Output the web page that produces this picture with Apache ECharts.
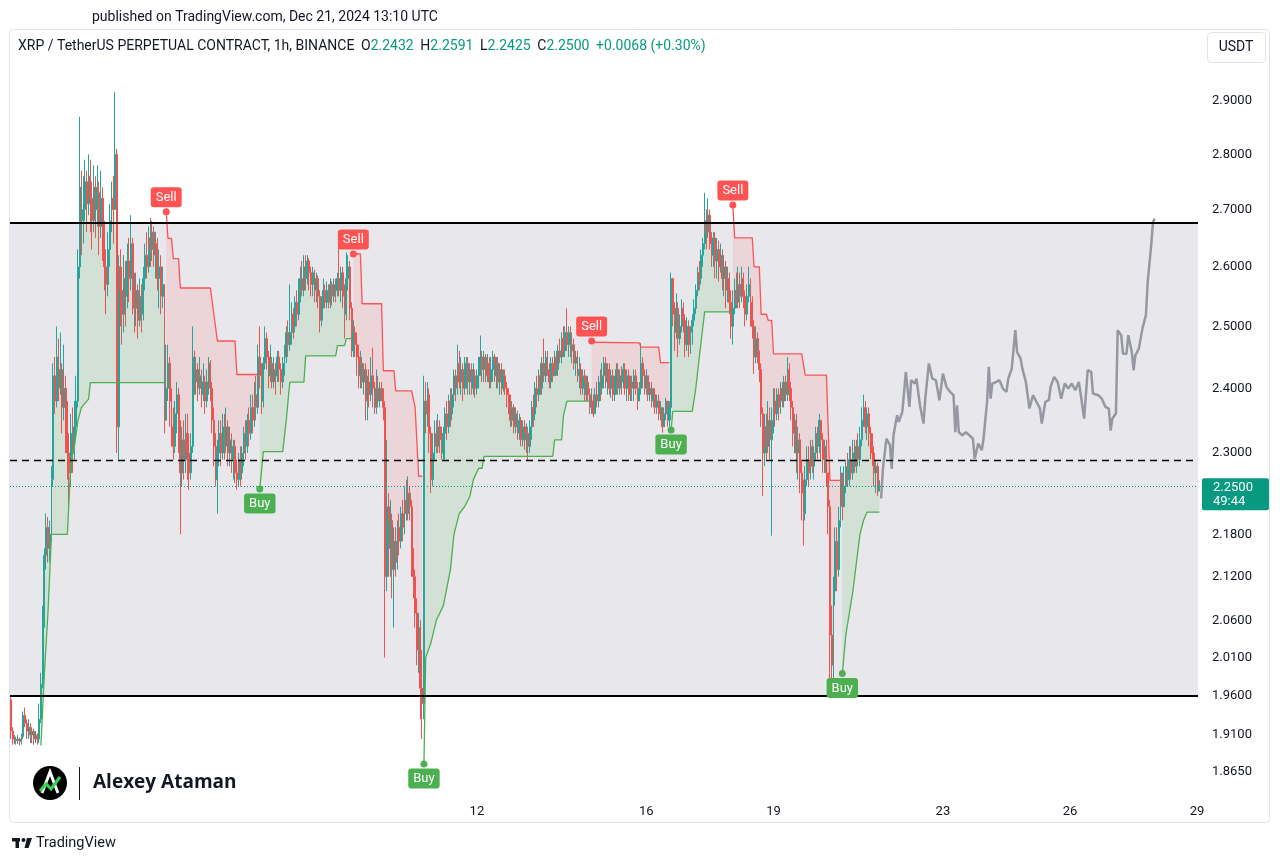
<!DOCTYPE html>
<html><head><meta charset="utf-8">
<script src="https://cdn.jsdelivr.net/npm/echarts@6/dist/echarts.min.js"></script>
<style>html,body{margin:0;padding:0;background:#fff;}#chart{width:1280px;height:861px;}</style>
</head><body><div id="chart"></div>
<script>
// ---------- DATA (hourly candles from Dec 1 00:00 UTC, index = hour) ----------
const startOpen = 1.955;
const closes = [
1.915,1.905,1.905,1.903,1.905,1.902,1.908,1.935,1.925,1.915,
1.92,1.91,1.915,1.905,1.91,1.905,1.93,1.975,
2.06,2.15,2.19,2.16,2.18,2.26,2.42,
2.38,2.45,2.40,2.43,2.37,2.40,2.34,2.30,2.27,2.33,2.30,2.34,2.38,
2.60,2.74,2.68,
2.70,2.75,2.71,2.76,2.72,2.68,2.74,2.70,2.73,2.67,2.72,2.65,2.60,2.57,2.63,2.68,2.72,2.70,
2.80,2.34,2.60,
2.56,2.52,2.58,2.55,2.61,2.58,2.64,2.57,2.53,2.56,2.51,2.55,2.52,2.58,2.62,2.60,2.65,2.63,2.66,2.62,2.64,2.58,2.60,2.55,2.57,
2.35,
2.40,2.44,2.38,2.34,2.31,2.36,2.39,2.33,2.27,2.32,2.29,2.33,2.30,2.27,2.31,2.45,
2.41,2.43,2.40,2.42,2.39,2.41,2.38,2.41,2.44,2.40,
2.35,2.31,2.26,2.30,2.33,2.30,2.34,
2.31,2.34,2.30,2.32,2.29,2.31,2.27,2.26,2.29,2.27,2.30,
2.33,2.31,2.35,2.33,2.37,2.35,2.39,2.37,2.45,2.42,
2.38,2.44,2.48,2.45,2.42,2.44,2.41,2.43,2.42,2.45,2.43,2.41,2.44,2.45,2.49,2.47,
2.49,2.52,2.50,2.54,2.52,2.56,2.58,2.56,
2.60,2.58,2.61,2.59,2.57,
2.59,2.56,2.58,2.55,2.51,2.54,2.56,2.54,
2.56,2.54,2.57,2.55,2.57,2.56,2.58,
2.56,2.59,2.55,2.52,2.58,2.60,2.53,2.46,
2.49,2.47,2.45,2.42,2.44,2.41,2.43,2.38,2.41,2.39,2.42,2.40,2.37,2.40,2.38,2.40,2.39,
2.37,2.12,2.22,
2.16,2.20,2.13,2.17,2.14,2.19,2.17,2.21,2.19,2.23,2.21,2.24,2.22,2.15,
2.12,2.07,2.02,2.05,1.97,1.95,2.38,
2.36,2.39,2.33,2.26,2.30,2.33,2.31,2.34,2.32,2.30,2.33,
2.36,2.34,2.38,2.36,2.39,2.42,2.40,2.44,2.41,2.43,2.40,2.42,
2.44,2.41,2.43,2.40,2.42,2.40,2.42,
2.44,2.45,2.43,2.45,2.42,2.44,2.41,2.43,2.45,2.42,2.44,2.41,2.43,2.40,2.42,2.40,2.39,
2.37,2.35,2.37,2.34,2.36,2.33,2.35,2.32,2.34,2.32,2.33,2.31,2.34,
2.37,2.36,2.40,2.39,
2.42,2.40,2.44,2.42,2.45,2.43,2.41,2.44,2.42,2.45,2.43,2.46,2.45,2.48,2.46,2.49,2.47,
2.49,2.46,2.47,2.44,2.45,2.42,2.43,2.40,2.42,2.39,2.41,2.39,2.37,
2.38,2.36,2.39,2.38,2.41,2.40,2.42,2.44,2.41,2.43,2.40,2.42,2.39,2.41,2.43,2.40,2.42,2.41,2.43,2.40,2.42,2.39,2.41,2.40,2.42,2.40,2.38,
2.40,2.44,2.42,2.40,2.42,2.39,2.40,2.38,2.39,2.37,2.38,2.36,2.37,2.34,2.36,2.38,2.35,2.37,
2.58,2.52,2.49,2.53,2.48,2.50,2.53,2.51,2.47,2.50,2.47,2.49,2.51,2.53,2.56,2.59,2.58,2.62,2.64,
2.68,2.66,2.69,2.64,2.62,2.65,2.61,2.63,2.60,2.62,2.58,2.60,2.56,2.58,2.54,2.50,
2.53,2.56,2.54,2.57,2.55,2.58,2.55,2.52,2.55,2.57,2.54,2.50,2.45,2.48,2.46,
2.43,2.36,2.30,2.34,2.31,2.35,2.32,2.35,2.38,
2.36,2.39,2.37,2.40,2.38,2.41,2.39,2.43,2.40,
2.37,2.33,2.35,2.30,2.32,2.27,2.24,2.21,2.26,
2.29,2.27,2.31,2.28,2.30,2.33,2.31,2.35,2.32,2.29,2.31,2.27,
2.22,2.04,2.00,2.10,2.17,2.13,2.20,2.27,2.22,
2.25,2.28,2.26,2.29,2.27,2.30,2.28,2.31,2.29,2.32,2.35,2.37,2.34,2.36,2.33,2.31,2.30,2.27,2.28,2.2432,2.25
];
const highs = [
1.958,1.92,1.91,1.908,1.91,1.907,1.912,1.94,1.945,1.93,1.93,1.925,1.92,1.918,1.915,1.912,1.95,1.99,
2.08,2.16,2.21,2.205,2.20,2.28,2.44,
2.45,2.50,2.48,2.49,2.44,2.47,2.42,2.38,2.33,2.36,2.37,2.38,2.42,
2.63,2.87,2.77,
2.76,2.79,2.77,2.80,2.79,2.75,2.78,2.76,2.78,2.75,2.77,2.74,2.68,2.63,2.66,2.71,2.75,2.76,
2.917,2.81,2.62,
2.63,2.60,2.62,2.61,2.64,2.65,2.69,2.65,2.59,2.59,2.57,2.58,2.57,2.60,2.64,2.66,2.67,2.685,2.68,2.67,2.66,2.65,2.63,2.62,2.60,
2.56,
2.47,2.47,2.45,2.40,2.37,2.38,2.41,2.40,2.35,2.34,2.35,2.36,2.36,2.33,2.33,2.50,
2.46,2.45,2.44,2.45,2.43,2.44,2.42,2.43,2.45,2.445,
2.41,2.37,2.33,2.32,2.35,2.35,2.36,
2.36,2.37,2.35,2.34,2.33,2.32,2.32,2.29,2.30,2.31,2.31,
2.34,2.35,2.36,2.37,2.39,2.39,2.41,2.42,2.47,2.50,
2.44,2.45,2.50,2.49,2.46,2.47,2.45,2.45,2.44,2.46,2.46,2.44,2.45,2.47,2.50,2.51,
2.57,2.54,2.53,2.55,2.56,2.58,2.60,2.61,
2.62,2.62,2.62,2.615,2.60,
2.60,2.595,2.59,2.585,2.56,2.55,2.58,2.57,
2.575,2.57,2.58,2.575,2.58,2.58,2.59,
2.65,2.60,2.60,2.57,2.625,2.62,2.61,2.54,
2.51,2.50,2.49,2.47,2.46,2.45,2.44,2.44,2.42,2.43,2.45,2.465,2.41,2.43,2.42,2.41,2.41,
2.40,2.38,2.32,
2.24,2.23,2.21,2.19,2.19,2.20,2.21,2.22,2.23,2.25,2.26,2.265,2.25,2.23,
2.16,2.13,2.09,2.07,2.06,2.02,2.42,
2.41,2.41,2.40,2.34,2.33,2.35,2.35,2.36,2.35,2.34,2.34,
2.37,2.38,2.39,2.40,2.40,2.43,2.43,2.47,2.46,2.45,2.44,2.45,
2.45,2.45,2.44,2.44,2.44,2.43,2.43,
2.45,2.485,2.46,2.46,2.455,2.455,2.45,2.45,2.46,2.455,2.45,2.45,2.44,2.44,2.43,2.43,2.41,
2.40,2.39,2.38,2.375,2.37,2.365,2.36,2.355,2.35,2.35,2.345,2.34,2.35,
2.38,2.39,2.41,2.42,
2.43,2.44,2.45,2.48,2.46,2.46,2.44,2.45,2.45,2.46,2.46,2.47,2.48,2.49,2.50,2.50,2.53,
2.50,2.50,2.49,2.48,2.46,2.46,2.45,2.44,2.43,2.43,2.42,2.42,2.40,
2.40,2.39,2.40,2.41,2.42,2.43,2.44,2.45,2.45,2.44,2.44,2.43,2.43,2.42,2.44,2.44,2.43,2.435,2.44,2.44,2.43,2.43,2.42,2.42,2.43,2.43,2.41,
2.41,2.473,2.45,2.43,2.43,2.42,2.41,2.41,2.40,2.40,2.39,2.39,2.38,2.37,2.37,2.385,2.38,2.38,
2.59,2.58,2.54,2.555,2.54,2.52,2.545,2.54,2.52,2.515,2.51,2.50,2.52,2.545,2.57,2.60,2.61,2.63,2.65,
2.73,2.70,2.72,2.70,2.66,2.66,2.66,2.65,2.645,2.64,2.63,2.62,2.61,2.60,2.59,2.56,
2.56,2.58,2.59,2.60,2.59,2.60,2.59,2.56,2.57,2.60,2.58,2.55,2.51,2.50,2.49,
2.46,2.44,2.37,2.36,2.36,2.38,2.37,2.37,2.40,
2.40,2.40,2.40,2.41,2.41,2.42,2.42,2.45,2.44,
2.41,2.38,2.36,2.36,2.34,2.33,2.29,2.26,2.28,
2.31,2.31,2.32,2.32,2.31,2.34,2.34,2.36,2.35,2.33,2.32,2.32,
2.27,2.23,2.08,2.12,2.19,2.19,2.22,2.28,2.265,
2.28,2.29,2.30,2.31,2.31,2.32,2.32,2.32,2.33,2.34,2.37,2.39,2.38,2.37,2.37,2.34,2.33,2.31,2.29,2.285,2.2591
];
const lows = [
1.905,1.898,1.899,1.898,1.899,1.897,1.898,1.905,1.92,1.905,1.905,1.90,1.90,1.898,1.90,1.898,1.90,1.925,
1.97,2.05,2.13,2.14,2.14,2.17,2.25,
2.36,2.37,2.38,2.39,2.33,2.35,2.30,2.26,2.22,2.25,2.27,2.29,2.32,
2.37,2.58,2.62,
2.64,2.68,2.66,2.69,2.66,2.63,2.66,2.65,2.67,2.62,2.65,2.61,2.56,2.52,2.55,2.60,2.66,2.64,
2.70,2.30,2.29,
2.50,2.47,2.49,2.50,2.53,2.54,2.56,2.52,2.49,2.50,2.48,2.50,2.49,2.51,2.56,2.58,2.59,2.60,2.61,2.60,2.58,2.56,2.53,2.52,2.53,
2.33,
2.37,2.38,2.34,2.31,2.29,2.30,2.33,2.30,2.18,2.25,2.26,2.27,2.26,2.245,2.26,2.30,
2.39,2.39,2.38,2.39,2.37,2.38,2.36,2.37,2.39,2.38,
2.33,2.28,2.25,2.21,2.28,2.28,2.29,
2.29,2.30,2.28,2.28,2.27,2.26,2.255,2.245,2.25,2.25,2.26,
2.28,2.29,2.30,2.31,2.32,2.33,2.34,2.35,2.36,2.40,
2.36,2.37,2.43,2.43,2.40,2.41,2.40,2.40,2.39,2.41,2.41,2.39,2.40,2.42,2.44,2.45,
2.46,2.47,2.48,2.49,2.50,2.51,2.54,2.55,
2.55,2.56,2.57,2.56,2.55,
2.55,2.54,2.54,2.53,2.49,2.50,2.53,2.53,
2.53,2.53,2.53,2.535,2.54,2.54,2.55,
2.55,2.54,2.53,2.48,2.51,2.56,2.51,2.45,
2.45,2.45,2.42,2.40,2.40,2.40,2.39,2.35,2.35,2.37,2.38,2.37,2.36,2.36,2.37,2.37,2.38,
2.35,2.01,2.10,
2.12,2.12,2.09,2.05,2.12,2.13,2.15,2.16,2.17,2.18,2.20,2.20,2.20,2.12,
2.09,2.05,2.00,1.99,1.93,1.905,1.93,
2.33,2.34,2.30,2.24,2.25,2.29,2.30,2.30,2.30,2.29,2.29,
2.29,2.32,2.33,2.34,2.35,2.37,2.38,2.39,2.40,2.39,2.38,2.39,
2.40,2.39,2.39,2.39,2.39,2.385,2.39,
2.40,2.42,2.41,2.41,2.41,2.41,2.40,2.40,2.41,2.41,2.40,2.40,2.39,2.39,2.395,2.39,2.37,
2.36,2.34,2.34,2.33,2.33,2.32,2.32,2.31,2.31,2.305,2.30,2.288,2.30,
2.32,2.34,2.35,2.37,
2.38,2.39,2.39,2.41,2.41,2.42,2.40,2.40,2.41,2.42,2.42,2.42,2.44,2.44,2.45,2.45,2.46,
2.45,2.45,2.44,2.43,2.42,2.41,2.40,2.39,2.39,2.38,2.38,2.38,2.36,
2.36,2.355,2.36,2.37,2.37,2.38,2.39,2.40,2.40,2.39,2.39,2.385,2.38,2.38,2.39,2.39,2.39,2.39,2.40,2.39,2.38,2.38,2.38,2.38,2.38,2.39,2.366,
2.38,2.39,2.40,2.39,2.39,2.38,2.38,2.37,2.37,2.36,2.36,2.35,2.35,2.331,2.34,2.35,2.34,2.34,
2.35,2.50,2.46,2.48,2.45,2.47,2.49,2.49,2.45,2.46,2.45,2.455,2.47,2.50,2.52,2.55,2.56,2.57,2.60,
2.63,2.63,2.65,2.63,2.60,2.60,2.58,2.58,2.575,2.59,2.56,2.55,2.53,2.54,2.52,2.48,
2.47,2.52,2.53,2.53,2.53,2.54,2.53,2.50,2.51,2.54,2.50,2.48,2.423,2.44,2.44,
2.41,2.34,2.236,2.28,2.29,2.30,2.29,2.178,2.33,
2.34,2.35,2.35,2.36,2.37,2.37,2.38,2.38,2.38,
2.35,2.31,2.30,2.27,2.26,2.24,2.20,2.164,2.20,
2.25,2.25,2.26,2.27,2.26,2.29,2.29,2.30,2.29,2.27,2.27,2.25,
2.18,1.96,1.965,1.98,2.08,2.10,2.12,2.19,2.20,
2.22,2.24,2.25,2.25,2.26,2.26,2.27,2.27,2.28,2.28,2.31,2.34,2.33,2.32,2.31,2.29,2.28,2.25,2.24,2.236,2.2425
];

// Supertrend lines: [hour, price]
const stGreen0 = [[17,1.897],[19,1.99],[21,2.07],[23,2.18],[32,2.18],[34,2.287],[36,2.31],[38,2.35],[40,2.37],[44,2.383],[45,2.409],[87,2.409]];
const stRed1   = [[88,2.696],[89,2.649],[91,2.649],[92,2.614],[95,2.614],[96,2.564],[113,2.564],[117,2.476],[127,2.476],[128,2.422],[140,2.422]];
const stGreen1 = [[141,2.246],[143,2.302],[154,2.302],[156,2.35],[158,2.41],[166,2.41],[167,2.452],[184,2.452],[185,2.4685],[189,2.4685],[190,2.48],[193,2.48]];
const stRed2   = [[194,2.622],[198,2.622],[199,2.5375],[210,2.5375],[211,2.428],[217,2.428],[218,2.396],[227,2.396],[229,2.37],[231,2.265],[233,2.265]];
const stGreen2 = [[234,1.874],[235,2.01],[238,2.03],[241,2.06],[245,2.08],[249,2.13],[251,2.18],[254,2.21],[257,2.22],[260,2.235],[262,2.26],[265,2.277],[267,2.277],[268,2.295],[307,2.295],[308,2.32],[312,2.32],[313,2.357],[315,2.38],[328,2.38]];
const stRed3   = [[329,2.474],[356,2.473],[357,2.466],[367,2.466],[368,2.441],[373,2.441]];
const stGreen3 = [[374,2.335],[375,2.364],[386,2.364],[388,2.40],[390,2.45],[393,2.524],[408,2.524]];
const stRed4   = [[409,2.708],[410,2.65],[420,2.65],[421,2.60],[424,2.60],[425,2.52],[428,2.52],[429,2.51],[431,2.51],[432,2.455],[448,2.455],[450,2.421],[462,2.421],[464,2.259],[470,2.259]];
const stGreen4 = [[471,1.989],[473,2.04],[475,2.07],[477,2.10],[479,2.14],[481,2.18],[483,2.20],[485,2.212],[492,2.212]];

const sellPoints = [[88,2.696],[194,2.622],[329,2.476],[409,2.708]];
const buyPoints  = [[141,2.246],[234,1.874],[374,2.335],[471,1.989]];

// Hand-drawn projection path [hour, price]
const projection = [[493,2.232],[494,2.276],[496,2.322],[498,2.312],[499,2.276],[500,2.327],[502,2.358],[503,2.3475],[505,2.363],[507,2.426],[509,2.371],[510,2.413],[512,2.4076],[513,2.4155],[514,2.413],[515,2.3734],[517,2.345],[518,2.3838],[520,2.4394],[522,2.4155],[524,2.413],[526,2.3813],[528,2.4235],[530,2.4023],[532,2.3944],[534,2.3892],[535,2.3316],[536,2.3734],[537,2.3316],[539,2.327],[541,2.3316],[543,2.327],[545,2.3218],[546,2.2914],[548,2.3142],[550,2.3041],[551,2.3218],[553,2.3786],[554,2.4341],[555,2.3838],[556,2.4076],[558,2.410],[560,2.413],[562,2.3996],[564,2.3944],[565,2.4155],[567,2.4314],[569,2.4937],[570,2.4582],[572,2.4474],[573,2.4314],[575,2.410],[577,2.3683],[579,2.3892],[581,2.3786],[583,2.3683],[584,2.345],[586,2.3786],[588,2.3813],[589,2.4023],[591,2.4181],[593,2.410],[595,2.3838],[597,2.4076],[599,2.3996],[601,2.4076],[603,2.397],[605,2.410],[606,2.3918],[608,2.3527],[610,2.4288],[612,2.426],[613,2.3918],[616,2.3892],[618,2.3838],[620,2.371],[622,2.3683],[623,2.3342],[624,2.3527],[626,2.3605],[627,2.4937],[629,2.4855],[630,2.4555],[632,2.4555],[633,2.4855],[635,2.4582],[636,2.4288],[637,2.4528],[639,2.4636],[640,2.4664],[641,2.4963],[643,2.5185],[644,2.5742],[646,2.6372],[647,2.678],[648,2.6838]];

const yTickValues = [2.9,2.8,2.7,2.6,2.5,2.4,2.3,2.18,2.12,2.06,2.01,1.96,1.91,1.865];
const xTickHours  = [264,360,432,528,600,672];
const xTickLabels = ['12','16','19','23','26','29'];
const resistance = 2.676, support = 1.96, midLevel = 2.2895, lastPrice = 2.25, countdown = '49:44';
const yMinPrice = 1.8325, yMaxPrice = 2.9735;
const totalHours = 673;

// ---------- BUILD ----------
const L = Math.log;
const UP = '#26a69a', DOWN = '#ef5350', STG = '#4caf50', STR = '#ff5252';
const cats = []; for (let i = 0; i < totalHours; i++) cats.push(String(i));
const openOf = t => t === 0 ? startOpen : closes[t - 1];
const candleData = closes.map((c, i) => {
  const o = openOf(i);
  return [L(o), L(c), L(Math.min(lows[i], o, c)), L(Math.max(highs[i], o, c))];
});
const segments = [
  {pts: stGreen0, up: true}, {pts: stRed1, up: false}, {pts: stGreen1, up: true}, {pts: stRed2, up: false},
  {pts: stGreen2, up: true}, {pts: stRed3, up: false}, {pts: stGreen3, up: true}, {pts: stRed4, up: false},
  {pts: stGreen4, up: true}
];
const bodyMid = t => (openOf(t) + closes[t]) / 2;

const series = [];
series.push({
  type: 'line', data: [[0, L(2.3)]], symbol: 'none', lineStyle: {opacity: 0}, z: 0, silent: true,
  markArea: {silent: true, precision: 8, itemStyle: {color: '#e8e8ec'}, data: [[{yAxis: L(support)}, {yAxis: L(resistance)}]]}
});
series.push({
  type: 'custom', coordinateSystem: 'cartesian2d', z: 1, silent: true,
  data: segments.map((s, i) => [s.pts[0][0], L(s.pts[0][1]), i]),
  encode: {x: 0, y: 1},
  renderItem: (params, api) => {
    const seg = segments[params.dataIndex];
    const t0 = seg.pts[0][0], t1 = seg.pts[seg.pts.length - 1][0];
    const pts = seg.pts.map(p => api.coord([p[0], L(p[1])]));
    for (let t = t1; t >= t0; t--) pts.push(api.coord([t, L(bodyMid(t))]));
    return {type: 'polygon', shape: {points: pts},
      style: {fill: seg.up ? 'rgba(76,175,80,0.14)' : 'rgba(255,82,82,0.13)'}};
  }
});
series.push({
  type: 'candlestick', data: candleData, z: 2, barWidth: '80%',
  itemStyle: {color: UP, color0: DOWN, borderColor: UP, borderColor0: DOWN, borderWidth: 1},
  markLine: {
    symbol: 'none', silent: true, animation: false, precision: 8,
    data: [{
      yAxis: L(lastPrice),
      lineStyle: {color: '#089981', width: 1, type: [1, 2]},
      label: {show: true, position: 'end', distance: 4, offset: [0, 8],
        formatter: lastPrice.toFixed(4) + '\n' + countdown,
        color: '#fff', backgroundColor: '#089981', fontSize: 13, lineHeight: 14,
        fontFamily: 'Roboto', padding: [2, 16, 2, 11], borderRadius: 2}
    }]
  }
});
segments.forEach(s => series.push({
  type: 'line', data: s.pts.map(p => [p[0], L(p[1])]), symbol: 'none', z: 3, silent: true,
  lineStyle: {color: s.up ? STG : STR, width: 1.3}
}));
series.push({
  type: 'line', data: projection.map(p => [p[0], L(p[1])]), symbol: 'none', z: 4, silent: true,
  lineStyle: {color: '#9598a1', width: 2.5}
});
series.push({
  type: 'line', data: [[0, L(2.3)]], symbol: 'none', lineStyle: {opacity: 0}, z: 5, silent: true,
  markLine: {
    symbol: 'none', silent: true, animation: false, precision: 8, label: {show: false},
    data: [
      {yAxis: L(resistance), lineStyle: {color: '#000', width: 2, type: 'solid'}},
      {yAxis: L(support), lineStyle: {color: '#000', width: 2, type: 'solid'}},
      {yAxis: L(midLevel), lineStyle: {color: '#000', width: 1.3, type: [7, 5]}}
    ]
  }
});
const sigLabel = (txt, col, pos) => ({show: true, formatter: txt, position: pos, distance: 1,
  color: '#fff', backgroundColor: col, padding: [4, 5, 3, 5], borderRadius: 3, fontSize: 13, fontFamily: 'Roboto'});
series.push({type: 'scatter', data: sellPoints.map(p => [p[0], L(p[1])]), symbol: 'circle', symbolSize: 7, z: 6,
  itemStyle: {color: STR, opacity: 1}, label: sigLabel('Sell', STR, 'top')});
series.push({type: 'scatter', data: buyPoints.map(p => [p[0], L(p[1])]), symbol: 'circle', symbolSize: 7, z: 6,
  itemStyle: {color: STG, opacity: 1}, label: sigLabel('Buy', STG, 'bottom')});

const chart = echarts.init(document.getElementById('chart'));
chart.setOption({
  animation: false,
  backgroundColor: '#fff',
  grid: {left: 10, right: 82, top: 63, bottom: 63},
  xAxis: {
    type: 'category', data: cats, boundaryGap: true,
    axisLine: {show: false}, axisTick: {show: false}, splitLine: {show: false},
    axisLabel: {interval: i => xTickHours.includes(i), formatter: (v, i) => xTickLabels[xTickHours.indexOf(Number(v))] || '',
      color: '#131722', fontSize: 13, fontFamily: 'Roboto', margin: 7, hideOverlap: false}
  },
  yAxis: {
    type: 'value', position: 'right', min: L(yMinPrice), max: L(yMaxPrice),
    splitLine: {show: false}, axisLine: {show: false}, axisTick: {show: false},
    axisLabel: {customValues: yTickValues.map(v => L(v)), formatter: v => Math.exp(v).toFixed(4),
      color: '#131722', fontSize: 13, fontFamily: 'Roboto', margin: 14}
  },
  series: series,
  graphic: [
    {type: 'rect', shape: {x: 9.5, y: 29.5, width: 1260, height: 793, r: 4}, style: {fill: 'none', stroke: '#e0e3eb', lineWidth: 1}, z: -10, silent: true},
    {type: 'text', x: 92, y: 17, style: {text: 'published on TradingView.com, Dec 21, 2024 13:10 UTC', fill: '#131722', font: '14px Roboto', verticalAlign: 'middle'}},
    {type: 'text', x: 18, y: 46, style: {
      text: '{a|XRP / TetherUS PERPETUAL CONTRACT, 1h, BINANCE}  {a|O}{g|2.2432}  {a|H}{g|2.2591}  {a|L}{g|2.2425}  {a|C}{g|2.2500}  {g|+0.0068 (+0.30%)}',
      verticalAlign: 'middle',
      rich: {a: {fill: '#131722', fontSize: 14, fontFamily: 'Roboto'}, g: {fill: '#089981', fontSize: 14, fontFamily: 'Roboto'}}}},
    {type: 'rect', shape: {x: 1207.5, y: 32.5, width: 58, height: 30, r: 4}, style: {fill: '#fff', stroke: '#e0e3eb', lineWidth: 1}},
    {type: 'text', x: 1236, y: 47, style: {text: 'USDT', fill: '#131722', font: '14px Roboto', align: 'center', verticalAlign: 'middle'}},
    {type: 'circle', shape: {cx: 50, cy: 783, r: 17}, style: {fill: '#000'}},
    {type: 'polyline', shape: {points: [[42, 793], [50, 772], [58, 793]]}, style: {stroke: '#fff', lineWidth: 3, fill: 'none'}},
    {type: 'polyline', shape: {points: [[40, 791], [46, 784], [51, 789], [60, 777]]}, style: {stroke: '#39d353', lineWidth: 3, fill: 'none'}},
    {type: 'line', shape: {x1: 79.5, y1: 767, x2: 79.5, y2: 800}, style: {stroke: '#131722', lineWidth: 1}},
    {type: 'text', x: 93, y: 783, style: {text: 'Alexey Ataman', fill: '#131722', font: 'bold 19px "Open Sans"', verticalAlign: 'middle'}},
    {type: 'rect', shape: {x: 12, y: 838, width: 8, height: 3.5}, style: {fill: '#131722'}},
    {type: 'rect', shape: {x: 15.5, y: 838, width: 3.5, height: 10}, style: {fill: '#131722'}},
    {type: 'circle', shape: {cx: 23.5, cy: 840, r: 2}, style: {fill: '#131722'}},
    {type: 'polygon', shape: {points: [[27, 838], [32, 838], [28.5, 848], [24.5, 848]]}, style: {fill: '#131722'}},
    {type: 'text', x: 36, y: 843, style: {text: 'TradingView', fill: '#131722', font: '14.5px Roboto', verticalAlign: 'middle'}}
  ]
});
</script></body></html>
